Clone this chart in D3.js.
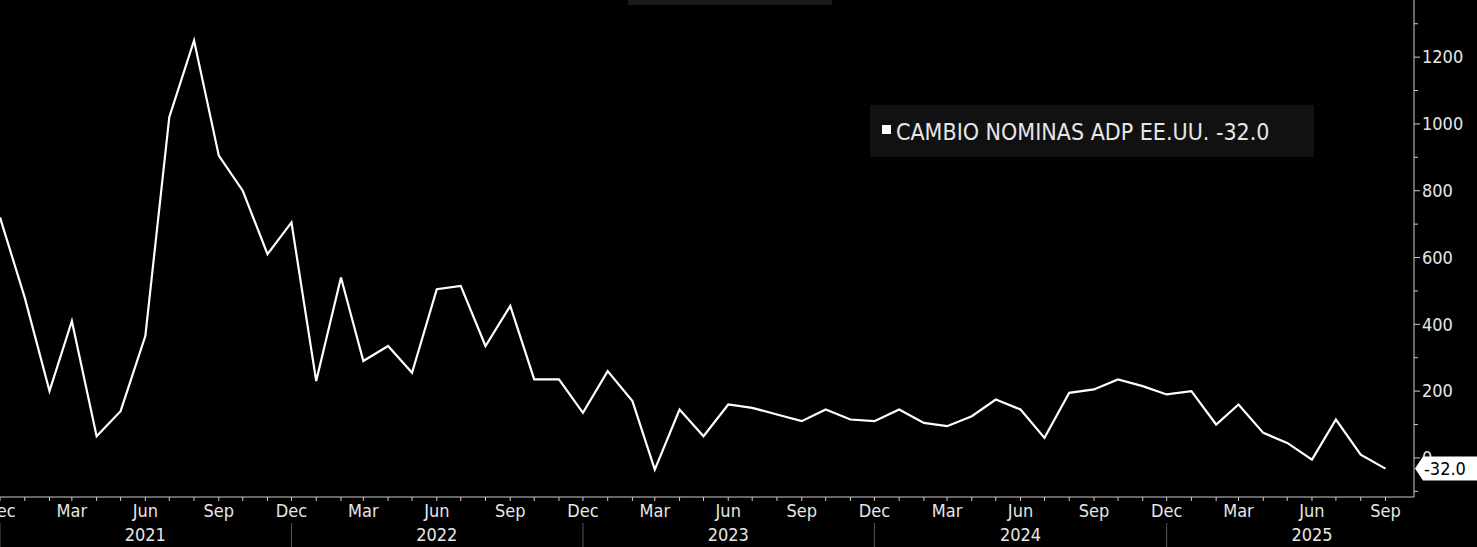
<!DOCTYPE html>
<html><head><meta charset="utf-8">
<script src="https://cdn.jsdelivr.net/npm/d3@7"></script>
<style>
body{margin:0;background:#000;overflow:hidden}
text{font-family:"DejaVu Sans Condensed","DejaVu Sans",sans-serif;fill:#e6e6e6}
</style></head><body>
<script>
const startMonth = new Date(2020, 11, 1);
const values = [720, 480, 200, 410, 65, 140, 365, 1020, 1250, 905, 800, 610, 705,
  230, 540, 290, 335, 255, 505, 515, 335, 455, 235, 235, 135,
  260, 170, -35, 145, 65, 160, 150, 130, 110, 145, 115, 110,
  145, 105, 95, 125, 175, 145, 60, 195, 205, 235, 215, 190,
  200, 100, 160, 75, 45, -5, 115, 10, -32];
const yTicks = [0, 200, 400, 600, 800, 1000, 1200, 1400];
const years = [2021, 2022, 2023, 2024, 2025];
const monthNames = ["Jan","Feb","Mar","Apr","May","Jun","Jul","Aug","Sep","Oct","Nov","Dec"];
const seriesName = "CAMBIO NOMINAS ADP EE.UU.";

const W = 1477, H = 547, right = 1414, bottom = 497;
const data = values.map((v, i) => ({date: d3.timeMonth.offset(startMonth, i), v}));

const svg = d3.select("body").append("svg").attr("width", W).attr("height", H);

const x = d3.scaleTime()
  .domain([startMonth, d3.timeMonth.offset(startMonth, 58)])
  .range([0, 24.3 * 58]);
const y = d3.scaleLinear().domain([-117, 1398]).range([bottom, -9]);

// faint top bar
svg.append("rect").attr("x", 628).attr("y", 0).attr("width", 204).attr("height", 5).attr("fill", "#1a1a1a");

// right axis
svg.append("line").attr("x1", right).attr("x2", right).attr("y1", 0).attr("y2", bottom)
  .attr("stroke", "#ccc");
d3.range(-100, 1450, 100).forEach(t => {
  const major = yTicks.includes(t);
  svg.append("line").attr("x1", right).attr("x2", right + (major ? 6 : 4))
    .attr("y1", y(t)).attr("y2", y(t)).attr("stroke", "#ccc");
});
yTicks.forEach(t => {
  svg.append("text").attr("x", right + 8).attr("y", y(t)).attr("dy", "0.35em")
    .attr("font-size", 18).text(t);
});

// bottom axis
svg.append("line").attr("x1", 0).attr("x2", right).attr("y1", bottom).attr("y2", bottom).attr("stroke", "#ccc");
data.forEach(d => {
  svg.append("line").attr("x1", x(d.date)).attr("x2", x(d.date))
    .attr("y1", bottom).attr("y2", bottom + 4).attr("stroke", "#ccc");
  const m = d.date.getMonth();
  if (m % 3 === 2) {
    svg.append("text").attr("x", x(d.date)).attr("y", bottom + 20).attr("text-anchor", "middle")
      .attr("font-size", 18).text(monthNames[m]);
  }
  if (m === 11) {
    svg.append("line").attr("x1", x(d.date)).attr("x2", x(d.date))
      .attr("y1", bottom + 26).attr("y2", H).attr("stroke", "#555");
  }
});
years.forEach(yr => {
  svg.append("text").attr("x", x(new Date(yr, 5, 1))).attr("y", bottom + 44)
    .attr("text-anchor", "middle").attr("font-size", 18).text(yr);
});

// line
svg.append("path").datum(data)
  .attr("fill", "none").attr("stroke", "#fff").attr("stroke-width", 2.2)
  .attr("stroke-linejoin", "miter")
  .attr("d", d3.line().x(d => x(d.date)).y(d => y(d.v)));

// last value tag
const last = data[data.length - 1];
const ly = y(last.v);
svg.append("path")
  .attr("d", `M${right + 1},${ly} L${right + 9},${ly - 12} L${W},${ly - 12} L${W},${ly + 12} L${right + 9},${ly + 12} Z`)
  .attr("fill", "#fff");
svg.append("text").attr("x", right + 10).attr("y", ly).attr("dy", "0.36em")
  .attr("font-size", 18).style("fill", "#000").text(last.v.toFixed(1));

// legend
svg.append("rect").attr("x", 870).attr("y", 105).attr("width", 444).attr("height", 52).attr("fill", "#111");
svg.append("rect").attr("x", 882).attr("y", 125).attr("width", 9).attr("height", 9).attr("fill", "#fff");
svg.append("text").attr("x", 896).attr("y", 132).attr("dy", "0.35em").attr("font-size", 23)
  .text(`${seriesName} ${last.v.toFixed(1)}`);
</script>
</body></html>
